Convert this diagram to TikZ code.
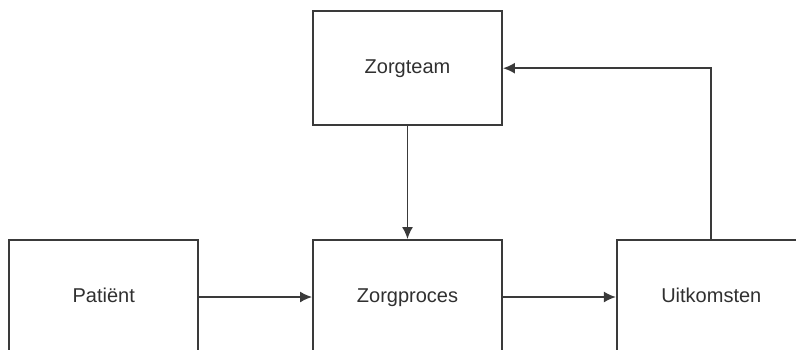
\documentclass[tikz,border=0pt]{standalone}
\usepackage{fontspec}
\setmainfont{Liberation Sans}
\usepackage{xcolor}
\usetikzlibrary{positioning,arrows.meta}
\definecolor{edge}{HTML}{3A3A3A}
\definecolor{ink}{HTML}{303030}

\begin{document}
\begin{tikzpicture}[x=1pt,y=-1pt,font=\fontsize{20}{24}\selectfont,node distance=113pt,
box/.style={draw=edge,line width=1.8pt,fill=white,text=ink,minimum width=189pt,minimum height=114pt,text height=14pt,text depth=4pt},
arr/.style={-{Latex[length=12pt,width=11pt]},line width=1.8pt,draw=edge}]
\useasboundingbox (0,0) rectangle (796,349);
\node[box] (proces) at (407.5,297) {Zorgproces};
\node[box,left=of proces] (patient) {Patiënt};
\node[box,right=of proces] (uitkomst) {Uitkomsten};
\node[box,above=of proces] (team) {Zorgteam};
\draw[arr] (patient)--(proces);\draw[arr] (proces)--(uitkomst);
\draw[arr] (team)--(proces);\draw[arr] (uitkomst.north)|-(team.east);
\end{tikzpicture}
\end{document}
